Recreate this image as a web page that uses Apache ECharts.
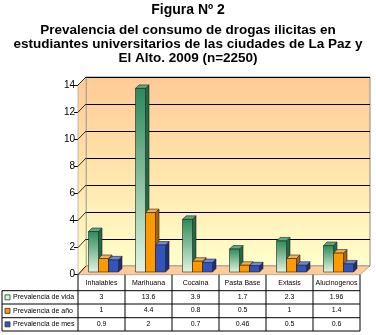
<!DOCTYPE html>
<html>
<head>
<meta charset="utf-8">
<script src="https://cdn.jsdelivr.net/npm/echarts@6/dist/echarts.min.js"></script>
<style>
html, body { margin: 0; background: #fff; }
#chart { width: 376px; height: 335px; }
</style>
</head>
<body>
<div id="chart"></div>
<script>
const categories = ['Inhalables', 'Marihuana', 'Cocaina', 'Pasta Base', 'Extasis', 'Alucinogenos'];
const seriesNames = ['Prevalencia de vida', 'Prevalencia de año', 'Prevalencia de mes'];
const vida = [3, 13.6, 3.9, 1.7, 2.3, 1.96];
const anio = [1, 4.4, 0.8, 0.5, 1, 1.4];
const mes = [0.9, 2, 0.7, 0.46, 0.5, 0.6];
const values = [vida, anio, mes];

// layout of the fake 3d box
const front = { left: 78, right: 360, top: 85, bottom: 274.7 };
const back = { left: 86, right: 370, top: 77, bottom: 266 };
const tableRows = [290.7, 304, 317.7, 331];
const colW = (front.right - front.left) / categories.length;
const font = '"Liberation Sans", Arial, sans-serif';

const wallFill = {
	type: 'linear', x: 0, y: 0, x2: 0, y2: 1,
	colorStops: [
		{ offset: 0, color: '#ffca96' },
		{ offset: 0.45, color: '#ffe2a8' },
		{ offset: 1, color: '#ffffcc' }
	]
};

const barColors = [
	{
		front: { type: 'linear', x: 0, y: 0, x2: 0, y2: 1, colorStops: [{ offset: 0, color: '#2c8a5a' }, { offset: 1, color: '#e2f5e2' }] },
		top: '#5aaa80', side: '#1e6a44', key: '#ccffcc'
	},
	{ front: '#ff9900', top: '#f2b050', side: '#a8620a', key: '#ff9900' },
	{ front: '#3355bb', top: '#6f88d8', side: '#1c2e7a', key: '#3355bb' }
];

function bar3d(i) {
	return function (params, api) {
		const p = api.coord([api.value(0), api.value(1)]);
		const b = api.coord([api.value(0), 0]);
		const w = 10, d = 3.5;
		const x = p[0] - 15 + i * w;
		const y = p[1], y0 = b[1];
		const c = barColors[i];
		const edge = { stroke: '#222', lineWidth: 0.6 };
		return {
			type: 'group',
			children: [
				{ type: 'polygon', shape: { points: [[x + w, y], [x + w + d, y - d], [x + w + d, y0 - d], [x + w, y0]] }, style: Object.assign({ fill: c.side }, edge) },
				{ type: 'polygon', shape: { points: [[x, y], [x + d, y - d], [x + w + d, y - d], [x + w, y]] }, style: Object.assign({ fill: c.top }, edge) },
				{ type: 'rect', shape: { x: x, y: y, width: w, height: y0 - y }, style: Object.assign({ fill: c.front }, edge) }
			]
		};
	};
}

const graphics = [];
// left side wall and floor
graphics.push({
	type: 'polygon', z: 1,
	shape: { points: [[front.left, front.top], [back.left, back.top], [back.left, back.bottom], [front.left, front.bottom]] },
	style: { fill: wallFill, stroke: '#999', lineWidth: 0.6 }
});
graphics.push({
	type: 'polygon', z: 1,
	shape: { points: [[front.left, front.bottom], [front.right, front.bottom], [back.right, back.bottom], [back.left, back.bottom]] },
	style: { fill: '#ffcc99', stroke: '#888', lineWidth: 0.6 }
});
// grid lines on the side wall
for (let v = 0; v <= 14; v += 2) {
	const yf = front.bottom - (front.bottom - front.top) * v / 14;
	const yb = back.bottom - (back.bottom - back.top) * v / 14;
	graphics.push({ type: 'line', z: 2, shape: { x1: front.left, y1: yf, x2: back.left, y2: yb }, style: { stroke: '#000', lineWidth: 0.8 } });
}
// data table
for (let k = 0; k <= categories.length; k++) {
	const x = front.left + k * colW;
	graphics.push({ type: 'line', z: 2, shape: { x1: x, y1: front.bottom, x2: x, y2: tableRows[3] }, style: { stroke: '#000', lineWidth: 1 } });
}
tableRows.forEach(y => {
	graphics.push({ type: 'line', z: 2, shape: { x1: 2, y1: y, x2: front.right, y2: y }, style: { stroke: '#000', lineWidth: 1 } });
});
graphics.push({ type: 'line', z: 2, shape: { x1: 2, y1: tableRows[0], x2: 2, y2: tableRows[3] }, style: { stroke: '#000', lineWidth: 1 } });
seriesNames.forEach((name, i) => {
	const yc = (tableRows[i] + tableRows[i + 1]) / 2;
	graphics.push({ type: 'rect', z: 3, shape: { x: 5, y: yc - 2.5, width: 5, height: 5 }, style: { fill: barColors[i].key, stroke: '#333', lineWidth: 0.8 } });
	graphics.push({
		type: 'text', z: 3, x: 13, y: yc,
		style: { text: name, fill: '#000', font: '7px ' + font, verticalAlign: 'middle' }
	});
});

const chart = echarts.init(document.getElementById('chart'));
chart.setOption({
	animation: false,
	backgroundColor: '#fff',
	title: [
		{
			text: 'Figura Nº 2', left: 188, top: 3, textAlign: 'center', padding: 0,
			textStyle: { fontSize: 14, fontWeight: 'bold', color: '#000', fontFamily: font, lineHeight: 14 }
		},
		{
			text: 'Prevalencia del consumo de drogas ilicitas en\nestudiantes universitarios de las ciudades de La Paz y\nEl Alto. 2009 (n=2250)',
			left: 188, top: 23, textAlign: 'center', padding: 0,
			textStyle: { fontSize: 13.5, fontWeight: 'bold', color: '#000', fontFamily: font, lineHeight: 14.3, align: 'center' }
		}
	],
	grid: [
		{
			left: back.left, top: back.top, width: back.right - back.left, height: back.bottom - back.top,
			show: true, backgroundColor: wallFill, borderColor: '#888', borderWidth: 1
		},
		{ left: front.left, top: front.top, width: front.right - front.left, height: front.bottom - front.top },
		{ left: 80, top: 83, width: 282, height: 189 }
	],
	xAxis: [
		{ gridIndex: 0, type: 'category', data: categories, show: false },
		{
			gridIndex: 1, type: 'category', data: categories,
			axisLine: { show: false }, axisTick: { show: false },
			axisLabel: {
				interval: 0, margin: 1.5, fontSize: 7, lineHeight: 13.7, color: '#000', fontFamily: font,
				formatter: (val, idx) => [val, vida[idx], anio[idx], mes[idx]].join('\n')
			}
		},
		{ gridIndex: 2, type: 'category', data: categories, show: false }
	],
	yAxis: [
		{
			gridIndex: 0, type: 'value', min: 0, max: 14, interval: 2,
			axisLine: { show: false }, axisTick: { show: false }, axisLabel: { show: false },
			splitLine: { show: true, lineStyle: { color: '#000', width: 1 } }
		},
		{
			gridIndex: 1, type: 'value', min: 0, max: 14, interval: 2,
			axisLine: { show: true, lineStyle: { color: '#000', width: 1 } },
			axisTick: { show: true, length: 4, lineStyle: { color: '#000' } },
			axisLabel: { fontSize: 10, color: '#000', margin: 3, fontFamily: font },
			splitLine: { show: false }
		},
		{ gridIndex: 2, type: 'value', min: 0, max: 14, show: false, splitLine: { show: false } }
	],
	graphic: graphics,
	series: values.map((arr, i) => ({
		name: seriesNames[i],
		type: 'custom',
		xAxisIndex: 2,
		yAxisIndex: 2,
		z: 5 + i,
		renderItem: bar3d(i),
		encode: { x: 0, y: 1 },
		data: arr.map((v, k) => [k, v])
	}))
});
</script>
</body>
</html>
